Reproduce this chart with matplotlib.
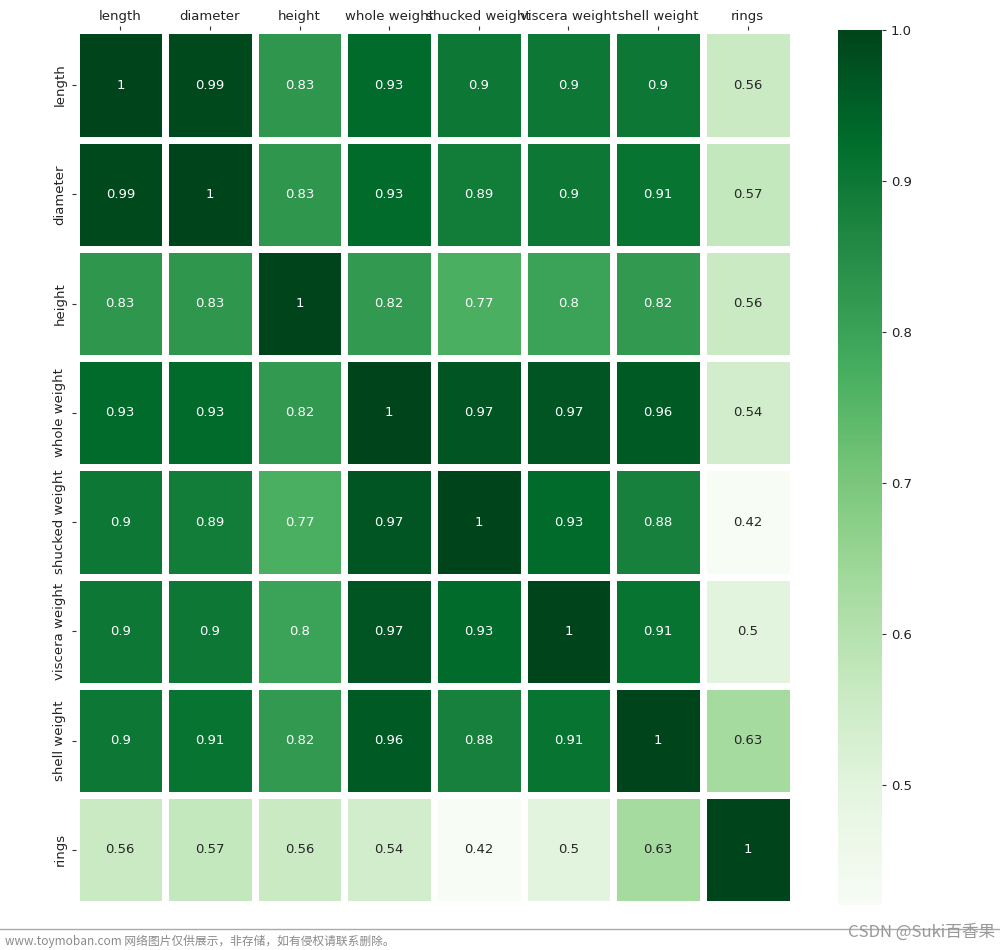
import numpy as np
import pandas as pd
import matplotlib
matplotlib.use("Agg")
import matplotlib.pyplot as plt
import seaborn as sns

labels = ["length", "diameter", "height", "whole weight", "shucked weight",
          "viscera weight", "shell weight", "rings"]

# correlation rows
length = [1.00, 0.99, 0.83, 0.93, 0.90, 0.90, 0.90, 0.56]
diameter = [0.99, 1.00, 0.83, 0.93, 0.89, 0.90, 0.91, 0.57]
height = [0.83, 0.83, 1.00, 0.82, 0.77, 0.80, 0.82, 0.56]
whole_weight = [0.93, 0.93, 0.82, 1.00, 0.97, 0.97, 0.96, 0.54]
shucked_weight = [0.90, 0.89, 0.77, 0.97, 1.00, 0.93, 0.88, 0.42]
viscera_weight = [0.90, 0.90, 0.80, 0.97, 0.93, 1.00, 0.91, 0.50]
shell_weight = [0.90, 0.91, 0.82, 0.96, 0.88, 0.91, 1.00, 0.63]
rings = [0.56, 0.57, 0.56, 0.54, 0.42, 0.50, 0.63, 1.00]

corr = pd.DataFrame([length, diameter, height, whole_weight, shucked_weight,
                     viscera_weight, shell_weight, rings],
                    index=labels, columns=labels)

fig = plt.figure(figsize=(10, 9.5), dpi=100)
ax = fig.add_axes([0.0755, 0.048, 0.717, 0.92])
cax = fig.add_axes([0.838, 0.047, 0.044, 0.921])

sns.heatmap(corr, ax=ax, cbar_ax=cax, cmap="Greens", annot=True, fmt=".2g",
            linewidths=5, linecolor="white", annot_kws={"size": 9.5})

ax.xaxis.tick_top()
ax.tick_params(axis="x", labelsize=9.5, length=3, pad=2, colors="#333333", labelcolor="#222222")
ax.tick_params(axis="y", labelsize=9.5, length=3, colors="#333333", labelcolor="#222222")
plt.setp(ax.get_xticklabels(), rotation=0)
plt.setp(ax.get_yticklabels(), rotation=90, va="center")
cax.tick_params(labelsize=9.5, length=3, colors="#333333", labelcolor="#222222")
cax.set_yticks([0.5, 0.6, 0.7, 0.8, 0.9, 1.0])

# watermark strip at the bottom
fig.add_artist(plt.Line2D([0.0, 1.0], [1 - 929 / 950, 1 - 929 / 950],
                          color="#aaaaaa", lw=1))
fig.text(0.005, 1 - 941 / 950, "www.toymoban.com 网络图片仅供展示，非存储，如有侵权请联系删除。",
         family=["Noto Sans CJK SC", "DejaVu Sans"], fontsize=8.5, color="#8a8a8a", va="center")
fig.text(0.995, 1 - 932 / 950, "CSDN @Suki百香果",
         family=["Noto Sans CJK SC", "DejaVu Sans"], fontsize=12, color="#999999",
         va="center", ha="right")

fig.savefig("out.png", dpi=100)
